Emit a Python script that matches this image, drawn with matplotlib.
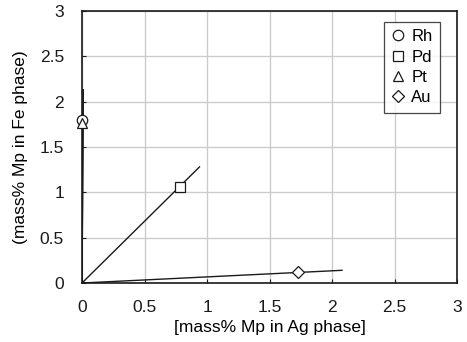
import matplotlib
matplotlib.use("Agg")
import matplotlib.pyplot as plt

plt.rcParams['font.family'] = ['Liberation Sans', 'DejaVu Sans']

elements = ["Rh", "Pd", "Pt", "Au"]
markers = ["o", "s", "^", "D"]
x_ag = [0.0, 0.78, 0.0, 1.73]
y_fe = [1.80, 1.06, 1.76, 0.12]
# fitted lines through origin: end points
line_x_end = [0.01, 0.94, 0.01, 2.08]
line_y_end = [2.13, 1.28, 2.13, 0.14]

fig = plt.figure(figsize=(4.67, 3.42), dpi=100)
ax = fig.add_axes([0.1756, 0.1725, 0.803, 0.7955])

for xe, ye in zip(line_x_end, line_y_end):
    ax.plot([0, xe], [0, ye], color='#1a1a1a', lw=1.0, zorder=2)

for el, m, xv, yv in zip(elements, markers, x_ag, y_fe):
    ms = 7.5 if m != 'D' else 6
    ax.plot([xv], [yv], linestyle='none', marker=m, ms=ms, mfc='white',
            mec='#1a1a1a', mew=0.9, label=el, zorder=3, clip_on=False)

ax.set_xlim(0, 3)
ax.set_ylim(0, 3)
ax.set_xticks([0, 0.5, 1, 1.5, 2, 2.5, 3])
ax.set_yticks([0, 0.5, 1, 1.5, 2, 2.5, 3])
ax.set_xticklabels(['0', '0.5', '1', '1.5', '2', '2.5', '3'])
ax.set_yticklabels(['0', '0.5', '1', '1.5', '2', '2.5', '3'])
ax.grid(True, color='#cccccc', lw=1.0, zorder=0)
ax.set_axisbelow(True)
ax.tick_params(direction='in', length=3, labelsize=12.5, colors='#1a1a1a')
ax.tick_params(axis='x', pad=12)
ax.tick_params(axis='y', pad=13)
for s in ax.spines.values():
    s.set_color('#1a1a1a')
    s.set_linewidth(1.2)

ax.set_xlabel('[mass% Mp in Ag phase]', fontsize=12.5, labelpad=4)
ax.set_ylabel('(mass% Mp in Fe phase)', fontsize=12.5, labelpad=8)

leg = ax.legend(loc='upper right', bbox_to_anchor=(0.955, 0.96), fontsize=12,
                frameon=True, fancybox=False, edgecolor='#1a1a1a',
                handlelength=0.8, handletextpad=0.4, borderpad=0.45,
                labelspacing=0.32, borderaxespad=0)
leg.get_frame().set_linewidth(0.9)

fig.savefig('out.png', dpi=100)
